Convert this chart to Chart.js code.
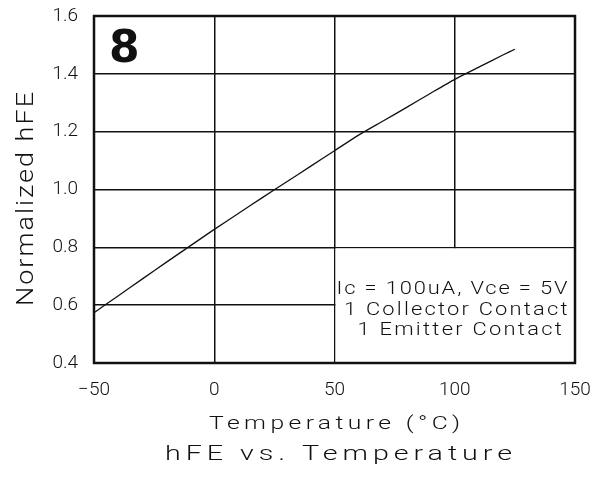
<!DOCTYPE html>
<html lang="en">
<head>
  <meta charset="UTF-8">
  <title>hFE vs. Temperature</title>
  <script src="https://cdn.jsdelivr.net/npm/chart.js"></script>
  <style>
    body { margin: 0; background: #fff; }
    #wrap { width: 600px; height: 482px; }
  </style>
</head>
<body>
  <div id="wrap"><canvas id="hfeChart"></canvas></div>

  <script>
    // Normalized hFE vs. junction temperature
    const temps = [-50, -40, -30, -20, -10, 0, 10, 20, 30, 40, 50, 60, 70, 80, 90, 100, 110, 120, 125];
    const hfe = [0.574, 0.632, 0.690, 0.748, 0.805, 0.862, 0.917, 0.972, 1.026, 1.080, 1.134, 1.188, 1.236, 1.284, 1.333, 1.381, 1.423, 1.465, 1.485];

    const xTicks = [-50, 0, 50, 100, 150];
    const yTicks = [0.4, 0.6, 0.8, 1.0, 1.2, 1.4, 1.6];

    const noteLines = ['Ic = 100uA, Vce = 5V', ' 1 Collector Contact', '  1 Emitter Contact'];
    const figNumber = '8';
    const xTitle = 'Temperature (°C)';
    const yTitle = 'Normalized hFE';
    const mainTitle = 'hFE vs. Temperature';

    const FONT = 'Roboto, Inter, "DejaVu Sans", sans-serif';
    const WEIGHT = '300';
    const INK = '#111';

    // wide plotter-style lettering: stretched glyphs spread to a given width
    function wide(ctx, text, cx, y, size, width, stretch) {
      ctx.save();
      ctx.font = WEIGHT + ' ' + size + 'px ' + FONT;
      ctx.letterSpacing = '0px';
      const natural = ctx.measureText(text).width;
      const local = width / stretch;
      const gap = (local - natural) / (text.length - 1);
      ctx.letterSpacing = gap + 'px';
      ctx.translate(cx, y);
      ctx.scale(stretch, 1);
      ctx.textAlign = 'left';
      ctx.textBaseline = 'alphabetic';
      ctx.fillText(text, -local / 2, 0);
      ctx.restore();
    }

    // note box, figure number, titles and the heavy frame
    const decorPlugin = {
      id: 'decor',
      beforeDatasetsDraw(chart) {
        const { ctx, scales: { x, y } } = chart;
        const l = x.getPixelForValue(50), r = x.getPixelForValue(150);
        const t = y.getPixelForValue(0.8), b = y.getPixelForValue(0.4);
        ctx.save();
        ctx.fillStyle = '#fff';
        ctx.fillRect(l + 1, t + 1, r - l - 2, b - t - 2);
        ctx.fillStyle = INK;
        // same pitch on every line: 231px for the 20 characters of the first
        const pitch = 231 / noteLines[0].length;
        noteLines.forEach((s, i) => wide(ctx, s, 452, 294 + i * 20.5, 17.5, pitch * s.length, 1.25));
        ctx.font = 'bold 44px "DejaVu Sans", sans-serif';
        ctx.textAlign = 'left';
        ctx.textBaseline = 'alphabetic';
        ctx.fillText(figNumber, x.left + 15, y.top + 46);
        ctx.restore();
      },
      afterDraw(chart) {
        const { ctx, chartArea: a } = chart;
        ctx.save();
        ctx.strokeStyle = INK;
        ctx.lineWidth = 2.5;
        ctx.strokeRect(a.left, a.top, a.right - a.left, a.bottom - a.top);
        ctx.fillStyle = INK;
        wide(ctx, xTitle, (a.left + a.right) / 2, 429, 19, 251, 1.3);
        wide(ctx, mainTitle, 338.5, 460, 20.5, 347, 1.4);
        ctx.translate(33, 199);
        ctx.rotate(-Math.PI / 2);
        wide(ctx, yTitle, 0, 0, 23.5, 214, 1.15);
        ctx.restore();
      }
    };

    new Chart(document.getElementById('hfeChart'), {
      type: 'line',
      data: {
        datasets: [{
          data: temps.map((t, i) => ({ x: t, y: hfe[i] })),
          borderColor: INK,
          borderWidth: 1.3,
          pointRadius: 0,
          tension: 0.2,
          fill: false
        }]
      },
      options: {
        responsive: true,
        maintainAspectRatio: false,
        animation: false,
        layout: { padding: { left: 0, right: 25, top: 16, bottom: 0 } },
        plugins: {
          legend: { display: false },
          tooltip: { enabled: false }
        },
        scales: {
          x: {
            type: 'linear',
            min: -50,
            max: 150,
            afterBuildTicks: s => { s.ticks = xTicks.map(v => ({ value: v })); },
            afterFit: s => { s.height = 119; s.paddingLeft = 0; s.paddingRight = 0; },
            grid: { color: INK, lineWidth: 1.5, drawTicks: false },
            border: { display: false },
            ticks: {
              padding: 16,
              color: INK,
              maxRotation: 0,
              font: { family: FONT, size: 19, weight: WEIGHT },
              callback: v => String(v).replace('-', '\u2212')
            }
          },
          y: {
            min: 0.4,
            max: 1.6,
            afterBuildTicks: s => { s.ticks = yTicks.map(v => ({ value: v })); },
            afterFit: s => { s.width = 94; s.paddingTop = 0; s.paddingBottom = 0; },
            grid: { color: INK, lineWidth: 1.5, drawTicks: false },
            border: { display: false },
            ticks: {
              padding: 16,
              color: INK,
              font: { family: FONT, size: 19, weight: WEIGHT },
              callback: v => v.toFixed(1)
            }
          }
        }
      },
      plugins: [decorPlugin]
    });
  </script>
</body>
</html>
